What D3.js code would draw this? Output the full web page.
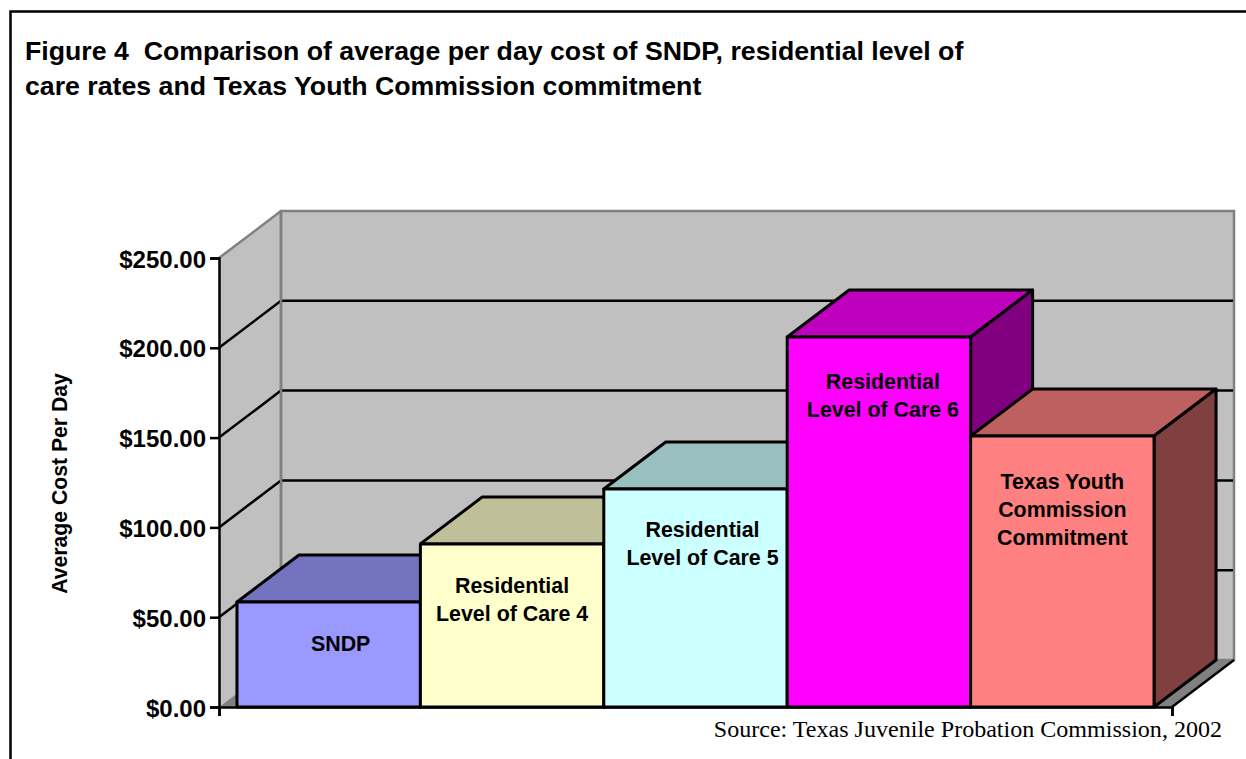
<!DOCTYPE html>
<html>
<head>
<meta charset="utf-8">
<script src="https://cdn.jsdelivr.net/npm/d3@7"></script>
<style>
  html, body { margin: 0; padding: 0; background: #fff; }
  svg { display: block; }
  text { font-family: "Liberation Sans", Arial, sans-serif; font-weight: bold; fill: #000; }
</style>
</head>
<body>
<div class="grafico"></div>
<script>
var titulo = ["Figure 4\u00a0 Comparison of average per day cost of SNDP, residential level of",
              "care rates and Texas Youth Commission commitment"];
var fonte = "Source: Texas Juvenile Probation Commission, 2002";
var tituloY = "Average Cost Per Day";

var categorias = ["SNDP", "Residential Level of Care 4", "Residential Level of Care 5", "Residential Level of Care 6", "Texas Youth Commission Commitment"];
var rotulos = [["SNDP"], ["Residential", "Level of Care 4"], ["Residential", "Level of Care 5"], ["Residential", "Level of Care 6"], ["Texas Youth", "Commission", "Commitment"]];
var valores = [58.5, 90.8, 121.4, 206, 150.9];
var cores = ["#9999ff", "#ffffcc", "#ccffff", "#ff00ff", "#ff8080"];
var ticks = [0, 50, 100, 150, 200, 250];

var width = 1246;
var height = 759;
// deslocamento da profundidade 3D
var dx = 62;
var dy = -47;
// ajuste fino dos rotulos dentro das barras
var ajusteRotuloX = [12, 0, 7, 4, 0];
var ajusteRotuloY = [49, 49, 48, 52, 53];

var svg = d3.select(".grafico").append("svg")
  .attr("width", width)
  .attr("height", height);

// moldura
svg.append("path")
  .attr("d", "M10.5,759V11.5H1246")
  .attr("fill", "none")
  .attr("stroke", "#000")
  .attr("stroke-width", 2.5);

// titulo
svg.selectAll("text.titulo").data(titulo).enter().append("text")
  .attr("class", "titulo")
  .attr("x", 25)
  .attr("y", function(d, i){ return 60 + i * 35; })
  .style("font-size", "26.7px")
  .text(function(d){ return d; });

var x = d3.scaleBand()
  .domain(categorias)
  .range([219, 1172])
  .paddingInner(0)
  .paddingOuter(0.098);

var y = d3.scaleLinear()
  .domain([0, 250])
  .range([707, 258]);

var x0 = x.range()[0], x1 = x.range()[1];
var y0 = y(0), yTop = y(250);

function poligono(pts){
  return "M" + pts.map(function(p){ return p.join(","); }).join("L") + "Z";
}

// paredes e chao
svg.append("path")
  .attr("d", poligono([[x0, y0], [x0 + dx, y0 + dy], [x0 + dx, yTop + dy], [x0, yTop]]))
  .attr("fill", "#c0c0c0");
svg.append("path")
  .attr("d", poligono([[x0 + dx, y0 + dy], [x1 + dx, y0 + dy], [x1 + dx, yTop + dy], [x0 + dx, yTop + dy]]))
  .attr("fill", "#c0c0c0")
  .attr("stroke", "#808080")
  .attr("stroke-width", 2.5);
svg.append("path")
  .attr("d", "M" + x0 + "," + yTop + "L" + (x0 + dx) + "," + (yTop + dy))
  .attr("stroke", "#808080")
  .attr("stroke-width", 2.5);
svg.append("path")
  .attr("d", poligono([[x0, y0], [x1, y0], [x1 + dx, y0 + dy], [x0 + dx, y0 + dy]]))
  .attr("fill", "#808080");
svg.append("path")
  .attr("d", "M" + x1 + "," + y0 + "L" + (x1 + dx) + "," + (y0 + dy))
  .attr("stroke", "#000")
  .attr("stroke-width", 2.5);

// linhas de grade
var grade = svg.append("g");
ticks.filter(function(t){ return t > 0 && t < 250; }).forEach(function(t){
  grade.append("path")
    .attr("d", "M" + x0 + "," + y(t) + "L" + (x0 + dx) + "," + (y(t) + dy) + "H" + (x1 + dx - 1))
    .attr("fill", "none")
    .attr("stroke", "#000")
    .attr("stroke-width", 2.5);
});
svg.append("path")
  .attr("d", "M" + (x0 + dx) + "," + (y0 + dy) + "V" + (yTop + dy))
  .attr("stroke", "#808080")
  .attr("stroke-width", 2.5);

// barras
var dados = categorias.map(function(c, i){
  return { cat: c, valor: valores[i], cor: cores[i], rotulo: rotulos[i], ax: ajusteRotuloX[i], ay: ajusteRotuloY[i] };
});

function escurecer(cor, f){
  var c = d3.rgb(cor);
  return d3.rgb(c.r * f, c.g * f, c.b * f).formatHex();
}

var barras = svg.selectAll("g.barra").data(dados).enter().append("g")
  .attr("class", "barra")
  .attr("stroke", "#000")
  .attr("stroke-width", 3)
  .attr("stroke-linejoin", "round");

barras.append("path")
  .attr("fill", function(d){ return escurecer(d.cor, 0.75); })
  .attr("d", function(d){
    var l = x(d.cat), r = l + x.bandwidth(), t = y(d.valor);
    return poligono([[l, t], [l + dx, t + dy], [r + dx, t + dy], [r, t]]);
  });
barras.append("path")
  .attr("fill", function(d){ return escurecer(d.cor, 0.5); })
  .attr("d", function(d){
    var r = x(d.cat) + x.bandwidth(), t = y(d.valor);
    return poligono([[r, t], [r + dx, t + dy], [r + dx, y0 + dy], [r, y0]]);
  });
barras.append("rect")
  .attr("fill", function(d){ return d.cor; })
  .attr("x", function(d){ return x(d.cat); })
  .attr("y", function(d){ return y(d.valor); })
  .attr("width", x.bandwidth())
  .attr("height", function(d){ return y0 - y(d.valor); });

// rotulos dentro das barras
barras.each(function(d){
  var g = d3.select(this);
  d.rotulo.forEach(function(linha, i){
    g.append("text")
      .attr("x", x(d.cat) + x.bandwidth() / 2 + d.ax)
      .attr("y", y(d.valor) + d.ay + i * 28)
      .attr("text-anchor", "middle")
      .attr("stroke", "none")
      .style("font-size", "21.4px")
      .text(linha);
  });
});

// eixos
var eixoY = d3.axisLeft(y)
  .tickValues(ticks)
  .tickSize(9)
  .tickPadding(4)
  .tickFormat(function(d){ return "$" + d3.format(".2f")(d); });
var gy = svg.append("g")
  .attr("transform", "translate(" + x0 + ",0)")
  .call(eixoY);
gy.selectAll("text").style("font-size", "24px").attr("dy", "0.38em");
gy.selectAll("line").attr("stroke", "#000").attr("stroke-width", 2.5);
gy.select(".domain").attr("stroke", "#000").attr("stroke-width", 2.5);

var eixoX = d3.axisBottom(d3.scaleLinear().domain([0, 1]).range([x0, x1]))
  .tickValues([0, 1])
  .tickSize(9)
  .tickFormat("");
var gx = svg.append("g")
  .attr("transform", "translate(0," + y0 + ")")
  .call(eixoX);
gx.selectAll("line").attr("stroke", "#000").attr("stroke-width", 2.5);
gx.select(".domain").attr("stroke", "#000").attr("stroke-width", 2.5);

// titulo do eixo y
svg.append("text")
  .attr("transform", "translate(67,483.5) rotate(-90)")
  .attr("text-anchor", "middle")
  .style("font-size", "21.2px")
  .text(tituloY);

// fonte
svg.append("text")
  .attr("x", 1222)
  .attr("y", 737)
  .attr("text-anchor", "end")
  .style("font-family", "'Liberation Serif', 'Times New Roman', serif")
  .style("font-weight", "normal")
  .style("font-size", "24.05px")
  .text(fonte);
</script>
</body>
</html>
